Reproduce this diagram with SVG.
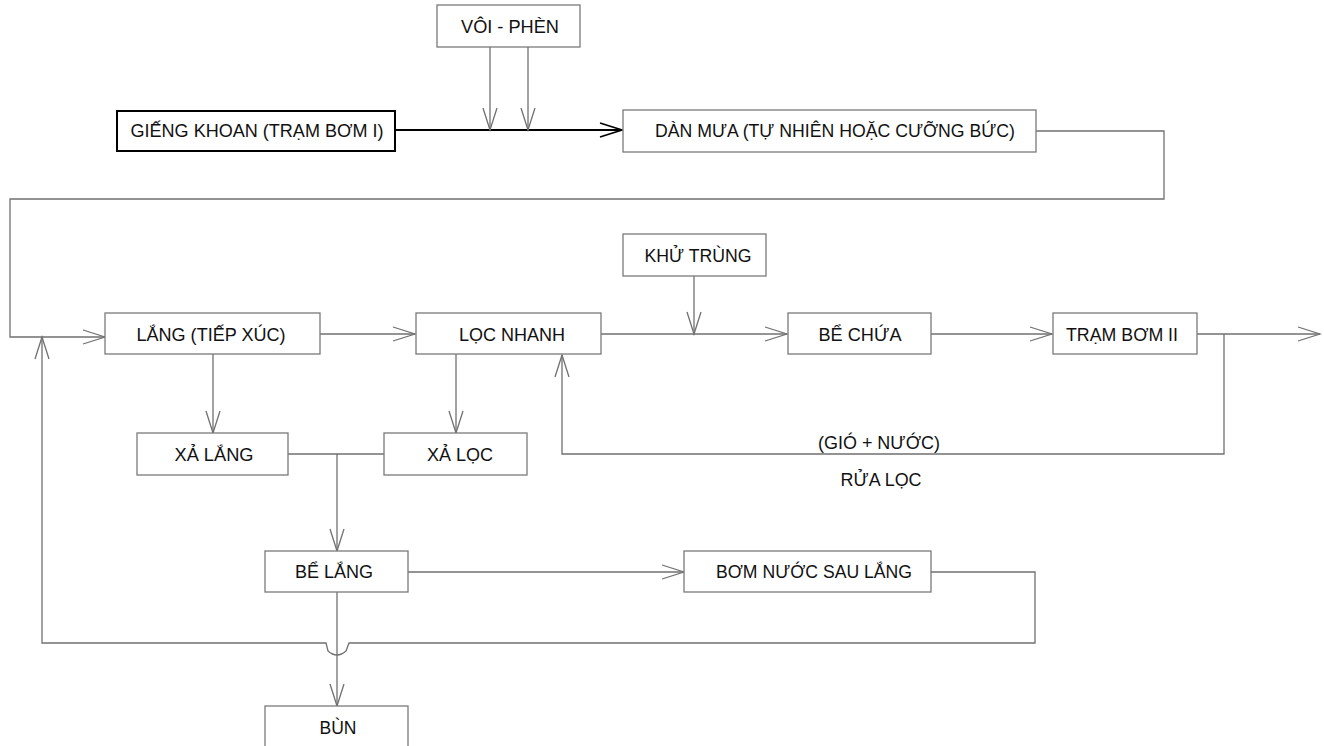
<svg xmlns="http://www.w3.org/2000/svg" width="1324" height="746" viewBox="0 0 1324 746">
<style>
.box{fill:#fff;stroke:#7a7a7a;stroke-width:1.3}
.boxb{fill:#fff;stroke:#000;stroke-width:2}
.t{font-family:"Liberation Sans",Arial,sans-serif;font-size:19px;fill:#111;text-anchor:middle}
.c{fill:none;stroke:#707070;stroke-width:1.3}
.cb{fill:none;stroke:#000;stroke-width:2}
</style>
<defs>
<marker id="a" viewBox="-24 -9 26 18" refX="0" refY="0" markerWidth="26" markerHeight="18" markerUnits="userSpaceOnUse" orient="auto">
<path d="M-22,-7 L0,0 L-22,7" fill="none" stroke="#707070" stroke-width="1.3"/>
</marker>
<marker id="ab" viewBox="-24 -9 26 18" refX="0" refY="0" markerWidth="26" markerHeight="18" markerUnits="userSpaceOnUse" orient="auto">
<path d="M-22,-7 L0,0 L-22,7" fill="none" stroke="#000" stroke-width="1.6"/>
</marker>
</defs>
<rect width="1324" height="746" fill="#fff"/>
<g id="connectors">
<path class="cb" d="M395,130 L622,130" marker-end="url(#ab)"/>
<path class="c" d="M490,47 L490,130" marker-end="url(#a)"/>
<path class="c" d="M528,47 L528,130" marker-end="url(#a)"/>
<path class="c" d="M1036,131 L1164,131 L1164,199 L10,199 L10,337 L105,337" marker-end="url(#a)"/>
<path class="c" d="M320,334 L415,334" marker-end="url(#a)"/>
<path class="c" d="M601,334 L787,334" marker-end="url(#a)"/>
<path class="c" d="M694,276 L694,334" marker-end="url(#a)"/>
<path class="c" d="M931,334 L1052,334" marker-end="url(#a)"/>
<path class="c" d="M1197,334 L1320,334" marker-end="url(#a)"/>
<path class="c" d="M1224,334 L1224,454 L562,454 L562,355" marker-end="url(#a)"/>
<path class="c" d="M213,354 L213,433" marker-end="url(#a)"/>
<path class="c" d="M456,354 L456,433" marker-end="url(#a)"/>
<path class="c" d="M288,454 L384,454"/>
<path class="c" d="M337,454 L337,551" marker-end="url(#a)"/>
<path class="c" d="M408,572 L684,572" marker-end="url(#a)"/>
<path class="c" d="M931,572 L1035,572 L1035,643 L349,643 L346,651 Q337,659 328,651 L326,643 L42,643 L42,337" marker-end="url(#a)"/>
<path class="c" d="M337,592 L337,706" marker-end="url(#a)"/>
</g>
<g id="voi-phen"><rect class="box" x="437" y="5" width="143" height="42"/><text class="t" x="510" y="33" textLength="98" lengthAdjust="spacingAndGlyphs">VÔI - PHÈN</text></g>
<g id="gieng-khoan"><rect class="boxb" x="117" y="111" width="278" height="40"/><text class="t" x="257" y="137" textLength="253" lengthAdjust="spacingAndGlyphs">GIẾNG KHOAN (TRẠM BƠM I)</text></g>
<g id="dan-mua"><rect class="box" x="623" y="110" width="413" height="42"/><text class="t" x="835" y="137" textLength="360" lengthAdjust="spacingAndGlyphs">DÀN MƯA (TỰ NHIÊN HOẶC CƯỠNG BỨC)</text></g>
<g id="khu-trung"><rect class="box" x="623" y="234" width="143" height="42"/><text class="t" x="698" y="262" textLength="107" lengthAdjust="spacingAndGlyphs">KHỬ TRÙNG</text></g>
<g id="lang"><rect class="box" x="105" y="313" width="215" height="41"/><text class="t" x="211" y="341" textLength="149" lengthAdjust="spacingAndGlyphs">LẮNG (TIẾP XÚC)</text></g>
<g id="loc-nhanh"><rect class="box" x="416" y="313" width="185" height="41"/><text class="t" x="512" y="341" textLength="106" lengthAdjust="spacingAndGlyphs">LỌC NHANH</text></g>
<g id="be-chua"><rect class="box" x="788" y="313" width="143" height="41"/><text class="t" x="860" y="341" textLength="83" lengthAdjust="spacingAndGlyphs">BỂ CHỨA</text></g>
<g id="tram-bom-2"><rect class="box" x="1053" y="313" width="144" height="41"/><text class="t" x="1122" y="341" textLength="112" lengthAdjust="spacingAndGlyphs">TRẠM BƠM II</text></g>
<g id="xa-lang"><rect class="box" x="137" y="433" width="151" height="42"/><text class="t" x="214" y="461" textLength="79" lengthAdjust="spacingAndGlyphs">XẢ LẮNG</text></g>
<g id="xa-loc"><rect class="box" x="384" y="433" width="143" height="42"/><text class="t" x="460" y="461" textLength="66" lengthAdjust="spacingAndGlyphs">XẢ LỌC</text></g>
<g id="be-lang"><rect class="box" x="265" y="551" width="143" height="41"/><text class="t" x="334" y="578" textLength="78" lengthAdjust="spacingAndGlyphs">BỂ LẮNG</text></g>
<g id="bom-nuoc"><rect class="box" x="684" y="551" width="247" height="41"/><text class="t" x="814" y="578" textLength="196" lengthAdjust="spacingAndGlyphs">BƠM NƯỚC SAU LẮNG</text></g>
<g id="bun"><rect class="box" x="265" y="706" width="143" height="45"/><text class="t" x="338" y="734" textLength="37" lengthAdjust="spacingAndGlyphs">BÙN</text></g>
<g id="labels"><text class="t" x="879" y="449" textLength="122" lengthAdjust="spacingAndGlyphs">(GIÓ + NƯỚC)</text><text class="t" x="881" y="486" textLength="81" lengthAdjust="spacingAndGlyphs">RỬA LỌC</text></g>
</svg>
